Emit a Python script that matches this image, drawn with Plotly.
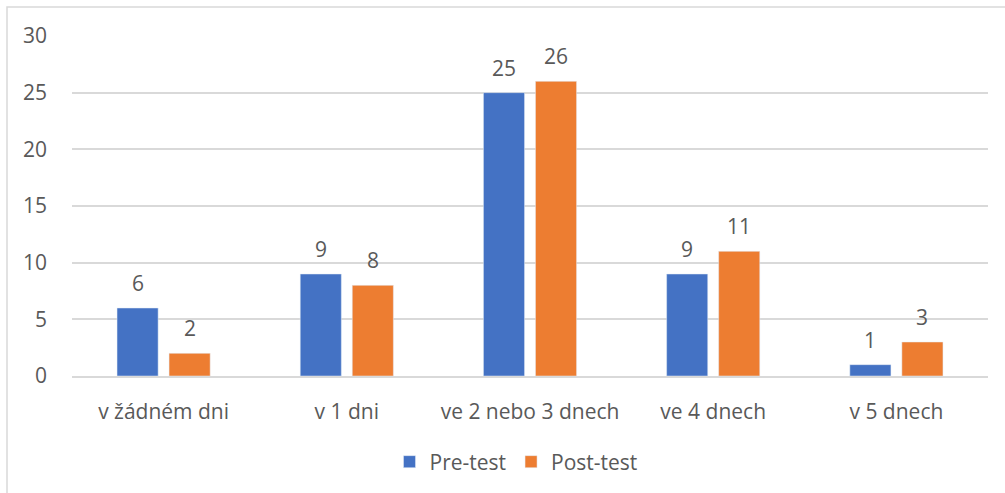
import plotly.graph_objects as go

categories = ["v žádném dni", "v 1 dni", "ve 2 nebo 3 dnech", "ve 4 dnech", "v 5 dnech"]
pre_test = [6, 9, 25, 9, 1]
post_test = [2, 8, 26, 11, 3]
y_ticks = [0, 5, 10, 15, 20, 25, 30]

W, H = 1005, 493
L, R, T, B = 72, 17, 36, 116
plot_w = W - L - R
plot_h = H - T - B

BLUE = "#4472C4"
ORANGE = "#ED7D31"
TEXT = "#595959"
GRID = "#D9D9D9"
FONT = "'Open Sans', sans-serif"
FS = 21

fig = go.Figure()
fig.add_trace(go.Bar(name="Pre-test", x=categories, y=pre_test, marker_color=BLUE))
fig.add_trace(go.Bar(name="Post-test", x=categories, y=post_test, marker_color=ORANGE))

# value labels above each bar
slot = plot_w / len(categories) * (1 - 0.432) / 2
annotations = []
for series, shift in ((pre_test, -slot / 2), (post_test, slot / 2)):
    for cat, v in zip(categories, series):
        annotations.append(dict(
            x=cat, y=v, xref="x", yref="y", text=str(v), showarrow=False,
            xshift=shift, yshift=25, font=dict(family=FONT, size=FS, color=TEXT),
        ))

# outer chart frame
px_to_x = lambda p: (p - L) / plot_w
px_to_y = lambda p: (H - B - p) / plot_h
shapes = [dict(
    type="rect", xref="paper", yref="paper",
    x0=px_to_x(7), x1=px_to_x(1010), y0=px_to_y(500), y1=px_to_y(7),
    line=dict(color=GRID, width=1.5), fillcolor="rgba(0,0,0,0)", layer="below",
)]

fig.update_layout(
    width=W, height=H,
    margin=dict(l=L, r=R, t=T, b=B),
    paper_bgcolor="white", plot_bgcolor="white",
    barmode="group", bargap=0.432, bargroupgap=0.21,
    font=dict(family=FONT, size=FS, color=TEXT),
    showlegend=True,
    legend=dict(orientation="h", x=px_to_x(516), xanchor="center", y=px_to_y(462), yanchor="middle",
                font=dict(family=FONT, size=FS, color=TEXT), itemwidth=30),
    annotations=annotations,
    shapes=shapes,
)
fig.update_xaxes(showgrid=False, showline=True, linecolor=GRID, linewidth=1.5,
                 ticks="", ticklabelstandoff=16, tickfont=dict(family=FONT, size=FS, color=TEXT))
fig.update_yaxes(range=[0, 30], tickvals=y_ticks, showgrid=True, gridcolor=GRID, gridwidth=1.5,
                 zeroline=False, showline=False, ticks="", ticklabelstandoff=24,
                 tickfont=dict(family=FONT, size=FS, color=TEXT))

fig.write_html("out.html")
